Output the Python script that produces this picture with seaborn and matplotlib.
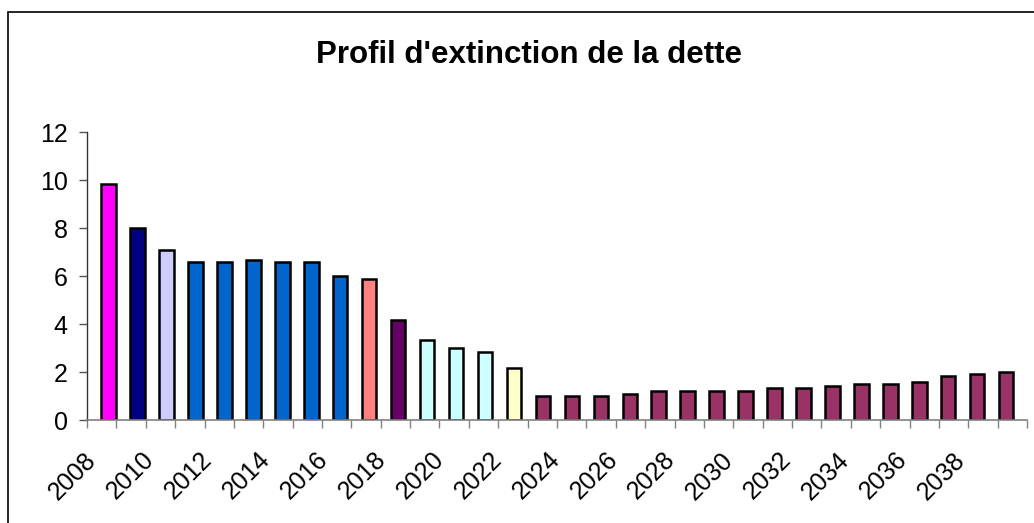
import numpy as np
import pandas as pd
import matplotlib
matplotlib.use('Agg')
import matplotlib.pyplot as plt
import matplotlib.transforms as mtransforms
from matplotlib.patches import Rectangle
import seaborn as sns

# ===== données =====
annees = [str(a) for a in range(2008, 2040)]
montants = [9.82, 8.01, 7.08, 6.60, 6.60, 6.68, 6.60, 6.60, 6.01, 5.86,
            4.17, 3.33, 2.99, 2.83, 2.17, 1.00, 1.00, 1.00, 1.10, 1.19,
            1.19, 1.19, 1.19, 1.35, 1.35, 1.43, 1.51, 1.51, 1.60, 1.85, 1.93, 2.01]
couleurs = (['#FF00FF', '#000080', '#CCCCFF'] + ['#0066CC'] * 6 + ['#FF8080', '#660066']
            + ['#CCFFFF'] * 3 + ['#FFFFCC'] + ['#993366'] * 17)
titre = "Profil d'extinction de la dette"

df = pd.DataFrame({'annee': annees, 'montant': montants})

sns.set_style('white', {'text.color': 'black', 'xtick.color': 'black',
                        'ytick.color': 'black', 'axes.labelcolor': 'black'})
plt.rcParams['font.family'] = ['Liberation Sans', 'DejaVu Sans']

fig = plt.figure(figsize=(10.34, 5.23), dpi=100)
ax = fig.add_axes([87 / 1034, 1 - 420 / 523, (1027 - 87) / 1034, (420 - 132) / 523])

sns.barplot(data=df, x='annee', y='montant', hue='annee', palette=couleurs,
            legend=False, width=0.5, edgecolor='black', linewidth=1.8,
            saturation=1, ax=ax)

xmin, xmax = -0.746, len(annees) - 1 + 0.72
ax.set_xlim(xmin, xmax)
ax.set_ylim(0, 12)
ax.set_yticks(range(0, 13, 2))
ax.set_xlabel('')
ax.set_ylabel('')

# graduations entre catégories, libellés une année sur deux
ax.set_xticks(range(0, len(annees), 2))
ax.set_xticklabels(annees[::2], rotation=45, ha='right', rotation_mode='anchor',
                   va='center', fontsize=18, color='black')
ax.set_xticks(np.linspace(xmin, xmax, len(annees) + 1), minor=True)
ax.tick_params(axis='x', which='major', bottom=True, length=0, pad=26)
ax.tick_params(axis='x', which='minor', bottom=True, length=6, width=1,
               color='#808080', direction='out')
ax.tick_params(axis='y', left=True, length=6, width=1, color='#555555',
               direction='out', labelsize=18, labelcolor='black', pad=8)
shift = mtransforms.ScaledTranslation(-0.16, 0, fig.dpi_scale_trans)
for lab in ax.get_xticklabels():
    lab.set_transform(lab.get_transform() + shift)

sns.despine(ax=ax)
ax.spines['left'].set_color('#333333')
ax.spines['bottom'].set_color('#808080')
ax.spines['left'].set_linewidth(1)
ax.spines['bottom'].set_linewidth(1.2)

fig.text(528.5 / 1034, 1 - 62.7 / 523, titre, ha='center', va='baseline',
         fontsize=22.5, fontweight='bold', color='black')

# cadre du graphique (coupé à droite et en bas)
fig.add_artist(Rectangle((8 / 1034, -0.5), 2, 0.5 + 1 - 12 / 523,
                         transform=fig.transFigure, fill=False,
                         edgecolor='black', linewidth=1.2))

fig.savefig('out.png', dpi=100)
